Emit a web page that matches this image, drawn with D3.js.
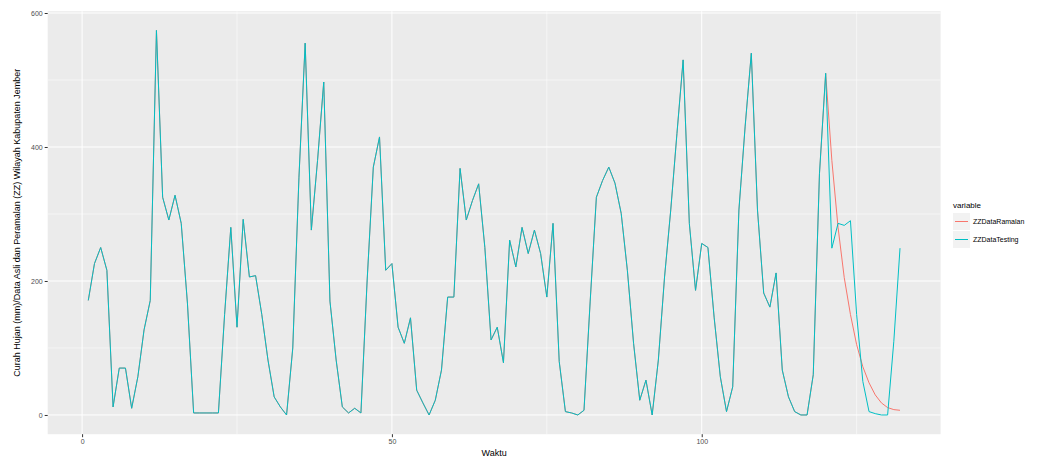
<!DOCTYPE html>
<html>
<head>
<meta charset="utf-8">
<script src="https://cdn.jsdelivr.net/npm/d3@7"></script>
<style>
  body { margin: 0; background: #fff; }
  text { font-family: "Liberation Sans", Arial, sans-serif; }
</style>
</head>
<body>
<div id="chart"></div>
<script>
// series values (rainfall, mm)
var testing = [171, 226, 250, 216, 12, 70, 70, 10, 57, 127,
  171, 574, 325, 291, 328, 286, 167, 3, 3, 3,
  3, 3, 150, 280, 131, 292, 206, 208, 150, 82,
  27, 12, 0, 100, 355, 555, 276, 380, 497, 170,
  82, 12, 3, 10, 3, 200, 370, 415, 216, 226,
  131, 107, 145, 37, 18, 0, 22, 67, 176, 176,
  368, 291, 320, 345, 250, 112, 131, 78, 261, 221,
  280, 241, 276, 241, 176, 286, 80, 5, 3, 0,
  7, 170, 325, 350, 370, 346, 301, 216, 107, 22,
  52, 0, 82, 206, 306, 420, 530, 286, 186, 256,
  250, 146, 57, 5, 42, 306, 430, 540, 306, 182,
  161, 212, 67, 27, 5, 0, 0, 60, 360, 510,
  249, 286, 283, 290, 150, 50, 5, 2, 0, 0,
  110, 249];
// forecast part, starting after point 120
var forecastStart = 120;
var forecast = [380, 280, 205, 150, 105, 72, 48, 30, 18, 11, 8, 7];

var seriesNames = ["ZZDataRamalan", "ZZDataTesting"];
var seriesColors = ["#F8766D", "#00BFC4"];
var xTicks = [0, 50, 100];
var xMinor = [25, 75, 125];
var yTicks = [0, 200, 400, 600];
var yMinor = [100, 300, 500];

var width = 1049;
var height = 463;

window.onload = function() {
  var testData = testing.map(function(v, i) { return { t: i + 1, v: v }; });
  var ramalData = testData.slice(0, forecastStart).concat(
    forecast.map(function(v, i) { return { t: forecastStart + i + 1, v: v }; }));

  var svg = d3.select("#chart")
    .append("svg")
    .attr("width", width)
    .attr("height", height);

  // ggplot style 5% expansion of the data range
  var xExt = d3.extent(testData, function(d) { return d.t; });
  var yExt = [0, d3.max(testData, function(d) { return d.v; })];
  var xPad = (xExt[1] - xExt[0]) * 0.05;
  var yPad = (yExt[1] - yExt[0]) * 0.05;

  var panel = { left: 47.7, right: 940.6, top: 11.2, bottom: 434.2 };

  var x = d3.scaleLinear()
    .domain([xExt[0] - xPad, xExt[1] + xPad])
    .range([panel.left, panel.right]);
  var y = d3.scaleLinear()
    .domain([yExt[0] - yPad, yExt[1] + yPad])
    .range([panel.bottom, panel.top]);

  // panel background
  svg.append("rect")
    .attr("x", panel.left)
    .attr("y", panel.top)
    .attr("width", panel.right - panel.left)
    .attr("height", panel.bottom - panel.top)
    .attr("fill", "#EBEBEB");

  // grid lines
  var grid = svg.append("g");
  grid.selectAll(".ymin").data(yMinor).enter().append("line")
    .attr("x1", panel.left).attr("x2", panel.right)
    .attr("y1", function(d) { return y(d); }).attr("y2", function(d) { return y(d); })
    .attr("stroke", "#fff").attr("stroke-width", 0.5);
  grid.selectAll(".xmin").data(xMinor).enter().append("line")
    .attr("y1", panel.top).attr("y2", panel.bottom)
    .attr("x1", function(d) { return x(d); }).attr("x2", function(d) { return x(d); })
    .attr("stroke", "#fff").attr("stroke-width", 0.5);
  grid.selectAll(".ymaj").data(yTicks).enter().append("line")
    .attr("x1", panel.left).attr("x2", panel.right)
    .attr("y1", function(d) { return y(d); }).attr("y2", function(d) { return y(d); })
    .attr("stroke", "#fff").attr("stroke-width", 1);
  grid.selectAll(".xmaj").data(xTicks).enter().append("line")
    .attr("y1", panel.top).attr("y2", panel.bottom)
    .attr("x1", function(d) { return x(d); }).attr("x2", function(d) { return x(d); })
    .attr("stroke", "#fff").attr("stroke-width", 1);

  // axes
  var xAxis = svg.append("g")
    .attr("transform", "translate(0," + panel.bottom + ")")
    .call(d3.axisBottom(x).tickValues(xTicks).tickSize(3).tickPadding(2));
  var yAxis = svg.append("g")
    .attr("transform", "translate(" + panel.left + ",0)")
    .call(d3.axisLeft(y).tickValues(yTicks).tickSize(3).tickPadding(2));
  [xAxis, yAxis].forEach(function(a) {
    a.select(".domain").remove();
    a.selectAll(".tick line").attr("stroke", "#333");
    a.selectAll(".tick text")
      .attr("fill", "#4D4D4D")
      .style("font-size", "7px");
  });

  // lines
  var line = d3.line()
    .x(function(d) { return x(d.t); })
    .y(function(d) { return y(d.v); });

  svg.append("path")
    .datum(ramalData)
    .attr("d", line)
    .attr("fill", "none")
    .attr("stroke", seriesColors[0])
    .attr("stroke-width", 1);
  svg.append("path")
    .datum(testData)
    .attr("d", line)
    .attr("fill", "none")
    .attr("stroke", seriesColors[1])
    .attr("stroke-width", 1);

  // axis titles
  svg.append("text")
    .attr("x", (panel.left + panel.right) / 2)
    .attr("y", 456)
    .attr("text-anchor", "middle")
    .style("font-size", "9px")
    .attr("fill", "#000")
    .text("Waktu");
  svg.append("text")
    .attr("transform", "translate(20," + ((panel.top + panel.bottom) / 2) + ")rotate(-90)")
    .attr("text-anchor", "middle")
    .style("font-size", "9px")
    .attr("fill", "#000")
    .text("Curah Hujan (mm)/Data Asli dan Peramalan (ZZ) Wilayah Kabupaten Jember");

  // legend
  var legend = svg.append("g").attr("transform", "translate(953,0)");
  legend.append("text")
    .attr("x", 0)
    .attr("y", 208)
    .style("font-size", "8px")
    .text("variable");
  var keys = legend.selectAll(".key")
    .data(seriesNames)
    .enter()
    .append("g")
    .attr("transform", function(d, i) { return "translate(0," + (213 + i * 18) + ")"; });
  keys.append("rect")
    .attr("width", 17).attr("height", 17)
    .attr("fill", "#F2F2F2");
  keys.append("line")
    .attr("x1", 2).attr("x2", 15)
    .attr("y1", 8.5).attr("y2", 8.5)
    .attr("stroke", function(d, i) { return seriesColors[i]; })
    .attr("stroke-width", 1);
  keys.append("text")
    .attr("x", 20)
    .attr("y", 11)
    .style("font-size", "7px")
    .attr("fill", "#000")
    .text(function(d) { return d; });
};
</script>
</body>
</html>
